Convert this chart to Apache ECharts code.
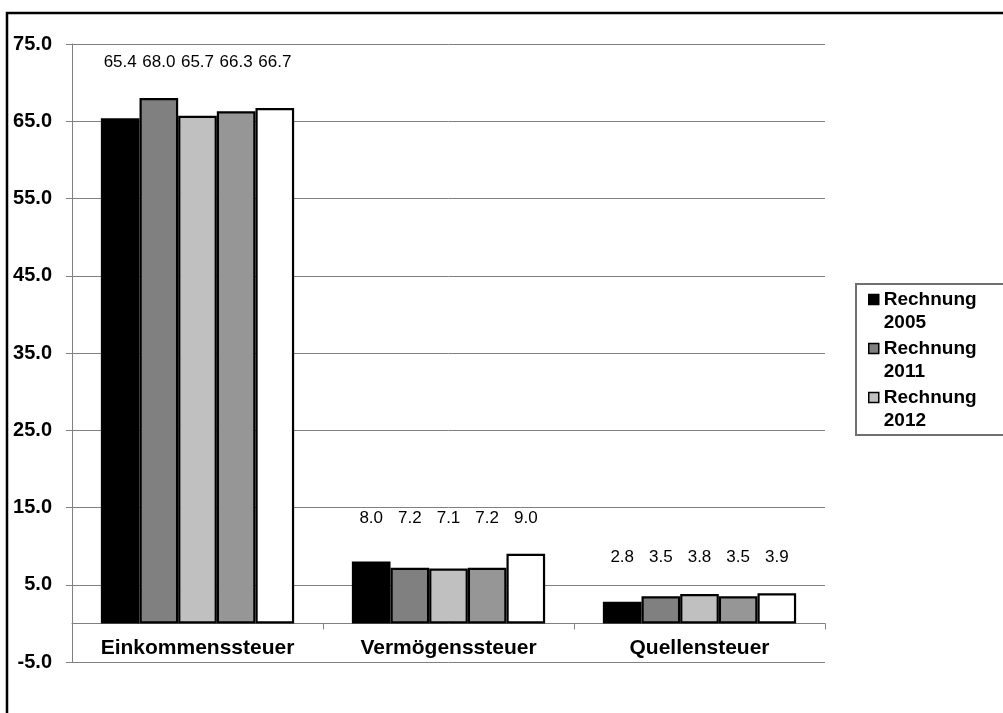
<!DOCTYPE html>
<html>
<head>
<meta charset="utf-8">
<script src="https://cdn.jsdelivr.net/npm/echarts@6/dist/echarts.min.js"></script>
<style>
  html, body { margin: 0; padding: 0; background: #fff; }
  #container1 { width: 1003px; height: 713px; }
</style>
</head>
<body>
<div id="container1"></div>
<script>
// Kategorien und Werte
var categories = ['Einkommenssteuer', 'Vermögenssteuer', 'Quellensteuer'];
var seriesNames = ['Rechnung 2005', 'Rechnung 2011', 'Rechnung 2012', 'Voranschlag 2013', 'Voranschlag 2014'];
var r2005 = [65.4, 8.0, 2.8];
var r2011 = [68.0, 7.2, 3.5];
var r2012 = [65.7, 7.1, 3.8];
var v2013 = [66.3, 7.2, 3.5];
var v2014 = [66.7, 9.0, 3.9];
var seriesColors = ['#000000', '#808080', '#c0c0c0', '#969696', '#ffffff'];
var legendShown = ['Rechnung 2005', 'Rechnung 2011', 'Rechnung 2012'];

var allValues = [r2005, r2011, r2012, v2013, v2014];
var fontName = '"Liberation Sans", Arial, sans-serif';

function Chart1_Init() {
    var myChart = echarts.init(document.getElementById('container1'));
    var series = [];
    for (var i = 0; i < allValues.length; i++) {
        series.push({
            name: seriesNames[i],
            type: 'bar',
            barGap: 0,
            barCategoryGap: '23%',
            itemStyle: { color: seriesColors[i], borderColor: '#000', borderWidth: 2.2 },
            label: {
                show: true,
                position: 'top',
                distance: 27,
                color: '#000',
                fontFamily: fontName,
                fontSize: 17,
                formatter: function (p) { return p.value.toFixed(1); }
            },
            data: allValues[i].slice()
        });
    }
    var option = {
        animation: false,
        backgroundColor: '#fff',
        textStyle: { fontFamily: fontName },
        graphic: [
            {
                type: 'rect', z: -1,
                shape: { x: 7, y: 13, width: 1100, height: 800 },
                style: { fill: 'none', stroke: '#000', lineWidth: 2.5 }
            },
            {
                type: 'rect', z: 0,
                shape: { x: 856, y: 284, width: 200, height: 151 },
                style: { fill: '#fff', stroke: '#707070', lineWidth: 2 }
            }
        ],
        grid: { left: 72, right: 178, top: 44, bottom: 51 },
        legend: {
            data: legendShown,
            orient: 'vertical',
            left: 868,
            top: 265,
            padding: 0,
            itemWidth: 10,
            itemHeight: 10,
            itemGap: -20,
            icon: 'rect',
            itemStyle: { borderColor: '#000', borderWidth: 1.5 },
            // leere erste Zeile, damit das Symbol neben "Rechnung" steht
            formatter: function (name) { return ' \n' + name.replace(' ', '\n'); },
            textStyle: {
                fontFamily: fontName,
                fontWeight: 'bold',
                fontSize: 19,
                lineHeight: 23,
                color: '#000'
            }
        },
        xAxis: {
            type: 'category',
            data: categories,
            offset: 0,
            axisLine: { onZero: false, lineStyle: { color: '#808080', width: 1 } },
            axisTick: { show: true, length: 6, lineStyle: { color: '#808080' } },
            axisLabel: {
                interval: 0,
                hideOverlap: false,
                margin: 14,
                color: '#000',
                fontFamily: fontName,
                fontWeight: 'bold',
                fontSize: 21
            }
        },
        yAxis: {
            type: 'value',
            min: -5,
            max: 75,
            interval: 10,
            axisLine: { show: true, lineStyle: { color: '#808080', width: 1 } },
            axisTick: { show: true, length: 6, lineStyle: { color: '#808080' } },
            splitLine: { show: true, lineStyle: { color: '#808080', width: 1 } },
            axisLabel: {
                margin: 20,
                color: '#000',
                fontFamily: fontName,
                fontWeight: 'bold',
                fontSize: 20,
                formatter: function (v) { return v.toFixed(1); }
            }
        },
        series: series
    };
    myChart.setOption(option);

    // Kategorieachse auf die Nulllinie schieben
    var yMin = myChart.convertToPixel({ yAxisIndex: 0 }, -5);
    var yZero = myChart.convertToPixel({ yAxisIndex: 0 }, 0);

    // Beschriftungen pro Gruppe auf gleiche Höhe setzen
    var pxPerUnit = yZero - myChart.convertToPixel({ yAxisIndex: 0 }, 1);
    var groupMax = [];
    for (var j = 0; j < categories.length; j++) {
        var m = -Infinity;
        for (var k = 0; k < allValues.length; k++) m = Math.max(m, allValues[k][j]);
        groupMax[j] = m;
    }
    var upd = [];
    for (var s = 0; s < allValues.length; s++) {
        var d = [];
        for (var c = 0; c < categories.length; c++) {
            var v = allValues[s][c];
            d.push({ value: v, label: { distance: 27 + (groupMax[c] - v) * pxPerUnit } });
        }
        upd.push({ name: seriesNames[s], data: d });
    }
    myChart.setOption({ xAxis: { offset: -(yMin - yZero) }, series: upd });
}
Chart1_Init();
</script>
</body>
</html>
